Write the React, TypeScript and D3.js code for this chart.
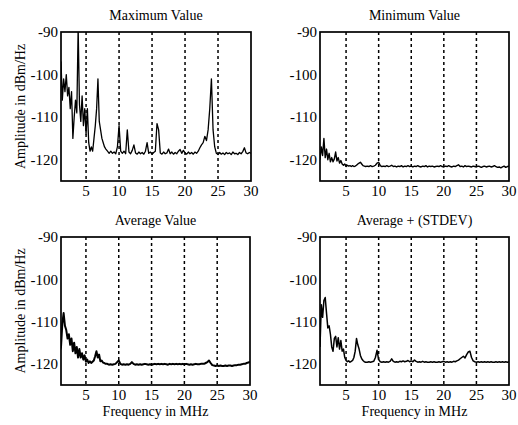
import React from "react";
import * as d3 from "d3";

// Frequency grid in MHz (shared by all four series)
const freqMHz: number[] = [
  1.0, 1.2, 1.4, 1.6, 1.8, 2.0, 2.2, 2.4, 2.6, 2.8, 3.0, 3.2, 3.4, 3.6, 3.8, 4.0, 4.2, 4.4,
  4.6, 4.8, 5.0, 5.2, 5.4, 5.6, 5.8, 6.0, 6.2, 6.4, 6.6, 6.8, 7.0, 7.2, 7.4, 7.6, 7.8, 8.0,
  8.25, 8.5, 8.75,
  9, 9.25, 9.5, 9.75, 10, 10.25, 10.5, 10.75, 11, 11.25, 11.5, 11.75,
  12, 12.25, 12.5, 12.75, 13, 13.25, 13.5, 13.75, 14, 14.25, 14.5, 14.75,
  15, 15.25, 15.5, 15.75, 16, 16.25, 16.5, 16.75, 17, 17.25, 17.5, 17.75,
  18, 18.25, 18.5, 18.75, 19, 19.25, 19.5, 19.75, 20, 20.25, 20.5, 20.75,
  21, 21.25, 21.5, 21.75, 22, 22.25, 22.5, 22.75, 23, 23.25, 23.5, 23.75,
  24, 24.25, 24.5, 24.75, 25, 25.25, 25.5, 25.75, 26, 26.25, 26.5, 26.75,
  27, 27.25, 27.5, 27.75, 28, 28.25, 28.5, 28.75, 29, 29.25, 29.5, 29.75,
  30,
];

const maxValue: number[] = [
  -97, -97, -106, -101, -104, -100, -105, -103, -108, -104, -115, -110, -106, -109, -89, -107, -111, -105,
  -112, -108, -114, -108, -116, -118, -117, -118, -115, -112, -108, -101, -111, -113, -115, -116, -117, -117.5,
  -118, -118.5, -118,
  -118.5, -118.2, -118.6, -117, // 9
  -112, -118, -118.5, -118, // 10
  -118.6, -113, -118.2, -118.6, // 11
  -117.8, -116.5, -118.4, -118.7, // 12
  -118.2, -118.6, -118.3, -118.7, // 13
  -118, -116, -118.5, -118.2, // 14
  -118.7, -118.3, -118, -111.5, // 15
  -113, -118.4, -118.7, -118.2, // 16
  -118.6, -118.4, -117.5, -118.6, // 17
  -118.2, -118.7, -118.3, -118.6, // 18
  -118, -117.6, -118.5, -117.8, // 19
  -118.4, -118.7, -118.2, -118.6, // 20
  -118.3, -118.7, -118.2, -118.5, // 21
  -118, -117.2, -116.5, -116, // 22
  -114.5, -115.5, -113, -108, // 23
  -101, -113, -117, -118.5, // 24
  -118.8, -118.3, -118.7, -118.4, // 25
  -118.8, -118.3, -118.6, -118.4, // 26
  -118.8, -118.2, -118.6, -118.5, // 27
  -118.8, -118.3, -118.6, -118.1, // 28
  -117.2, -118.4, -118.6, -118.3, // 29
  -118.5,
];

const minValue: number[] = [
  -120, -117, -119, -115, -119.5, -117.5, -120, -118.5, -120.5, -119.5, -120.5, -119.8, -118.2, -120.3, -119.5, -120.8, -120.2, -121,
  -121.3, -121, -121.6, -121.3, -121.5, -121.4, -121.6, -121.4, -121.6, -121.5, -121.3, -121, -120.8, -120.6, -121, -121.4, -121.5, -121.6,
  -121.5, -121.6, -121.4,
  -121.6, -121.5, -121.3, -120.8, // 9
  -120.6, -121.4, -121.6, -121.5, // 10
  -121.6, -121.4, -121.6, -121.5, // 11
  -121.3, -121.6, -121.5, -121.7, // 12
  -121.5, -121.6, -121.4, -121.7, // 13
  -121.5, -121.6, -121.4, -121.6, // 14
  -121.5, -121.7, -121.5, -121.6, // 15
  -121.4, -121.6, -121.7, -121.5, // 16
  -121.6, -121.4, -121.7, -121.5, // 17
  -121.6, -121.5, -121.7, -121.6, // 18
  -121.5, -121.6, -121.4, -121.6, // 19
  -121.7, -121.5, -121.6, -121.4, // 20
  -121.6, -121.7, -121.5, -121.6, // 21
  -121.4, -121.2, -121.6, -121.5, // 22
  -121.7, -121.4, -121.6, -121.5, // 23
  -121.6, -121.7, -121.5, -121.6, // 24
  -121.7, -121.5, -121.6, -121.8, // 25
  -121.6, -121.5, -121.7, -121.6, // 26
  -121.5, -121.7, -121.6, -121.4, // 27
  -121.6, -121.8, -121.7, -121.9, // 28
  -121.7, -121.5, -121.8, -121.6, // 29
  -121.5,
];

const avgValue: number[] = [
  -117, -116, -110.5, -108, -111, -112, -114, -113, -115.5, -114, -117, -115, -117.5, -116, -118.5, -116.5, -118.5, -117.5,
  -119, -118, -119.5, -119, -119.8, -119.4, -119.8, -119.5, -119.2, -118.2, -117, -118.5, -117.8, -119.4, -119.2, -119.7, -119.8, -120,
  -120, -120.2, -120.1,
  -120.2, -120.1, -120, -119.6, // 9
  -119.2, -120, -120.2, -120.1, // 10
  -120.2, -120.1, -120.2, -120, // 11
  -119.6, -120, -120.2, -120.1, // 12
  -120.2, -120.1, -120.2, -120.1, // 13
  -120, -120.1, -120.2, -120.1, // 14
  -120.2, -120.1, -120, -120.1, // 15
  -120, -120.1, -120, -120.1, // 16
  -120, -120.1, -120.2, -120, // 17
  -120.1, -120, -120.1, -120, // 18
  -120.1, -120, -120.1, -120, // 19
  -120.1, -120, -120.1, -120.2, // 20
  -120.1, -120.2, -120.1, -120, // 21
  -120.1, -120.1, -120, -120, // 22
  -120, -119.8, -119.6, -119.2, // 23
  -119.8, -120.3, -120.4, -120.5, // 24
  -120.4, -120.5, -120.4, -120.5, // 25
  -120.5, -120.4, -120.5, -120.4, // 26
  -120.4, -120.5, -120.4, -120.3, // 27
  -120.3, -120.2, -120.2, -120.1, // 28
  -120, -120, -119.8, -119.7, // 29
  -119.5,
];

const avgStdValue: number[] = [
  -116, -106, -109, -105, -104.3, -108, -111.5, -111, -113, -116, -117, -114, -113.5, -116, -113.8, -116.5, -114.5, -117,
  -116.5, -118.5, -119.2, -119.5, -119.3, -119.6, -119.4, -119.2, -118.5, -117, -114, -115.5, -116.5, -118, -118.8, -119.2, -119.5, -119.6,
  -119.6, -119.5, -119.6,
  -119.5, -119.4, -118.5, -116.8, // 9
  -119, -119.5, -119.6, -119.5, // 10
  -119.6, -119.5, -119.6, -119.4, // 11
  -118.8, -119.4, -119.6, -119.5, // 12
  -119.6, -119.4, -119.5, -119.3, // 13
  -119.5, -119.4, -119.2, -119.5, // 14
  -119.3, -119.5, -119.1, -119.4, // 15
  -119.6, -119.5, -119.6, -119.4, // 16
  -119.6, -119.5, -119.6, -119.6, // 17
  -119.5, -119.6, -119.5, -119.6, // 18
  -119.6, -119.5, -119.6, -119.5, // 19
  -119.4, -119.6, -119.5, -119.6, // 20
  -119.5, -119.6, -119.4, -119.5, // 21
  -119.3, -119.1, -118.8, -118.5, // 22
  -118.2, -118.6, -117.8, -117.2, // 23
  -117, -118.5, -119.3, -119.5, // 24
  -119.6, -119.5, -119.6, -119.5, // 25
  -119.6, -119.5, -119.6, -119.5, // 26
  -119.6, -119.5, -119.6, -119.6, // 27
  -119.5, -119.6, -119.5, -119.6, // 28
  -119.5, -119.6, -119.5, -119.6, // 29
  -119.5,
];

const xTicks: number[] = [5, 10, 15, 20, 25, 30];
const yTicks: number[] = [-90, -100, -110, -120];
const yDomain: [number, number] = [-125, -90];

const FONT = "'Liberation Serif', 'DejaVu Serif', serif";

type PanelProps = {
  id: string;
  title: string;
  values: number[];
  x0: number;
  x1: number;
  y0: number;
  y1: number;
  xMin: number;
  showYLabel: boolean;
  showXLabel: boolean;
  strokeWidth: number;
};

function Panel(p: PanelProps) {
  const x = d3.scaleLinear().domain([p.xMin, 30]).range([p.x0, p.x1]);
  const y = d3.scaleLinear().domain(yDomain).range([p.y1, p.y0]);
  const pts: [number, number][] = freqMHz.map((f, i) => [f, p.values[i]]);
  const line = d3
    .line<[number, number]>()
    .x((d) => x(d[0]))
    .y((d) => y(d[1]));
  const w = p.x1 - p.x0;
  const h = p.y1 - p.y0;
  const cx = (p.x0 + p.x1) / 2;
  return (
    <g>
      <defs>
        <clipPath id={p.id}>
          <rect x={p.x0} y={p.y0} width={w} height={h} />
        </clipPath>
      </defs>
      <text x={cx} y={p.y0 - 12} textAnchor="middle" fontSize={14} fontFamily={FONT}>
        {p.title}
      </text>
      {xTicks.filter((t) => t < 30).map((t) => (
        <line key={"gx" + t} x1={x(t)} x2={x(t)} y1={p.y0} y2={p.y1} stroke="#000" strokeWidth={1.5} strokeDasharray="3,3" />
      ))}
      {yTicks.filter((t) => t > -90).map((t) => (
        <line key={"gy" + t} x1={p.x0} x2={p.x1} y1={y(t)} y2={y(t)} stroke="#000" strokeWidth={1.5} strokeDasharray="3,3" />
      ))}
      <path d={line(pts) || ""} fill="none" stroke="#000" strokeWidth={p.strokeWidth} strokeLinejoin="round" clipPath={`url(#${p.id})`} />
      <rect x={p.x0} y={p.y0} width={w} height={h} fill="none" stroke="#000" strokeWidth={1.7} />
      {xTicks.map((t) => (
        <text key={"tx" + t} x={x(t)} y={p.y1 + 15} textAnchor="middle" fontSize={15} fontFamily={FONT}>
          {t}
        </text>
      ))}
      {yTicks.map((t) => (
        <text key={"ty" + t} x={p.x0 - 3} y={y(t)} dy="0.35em" textAnchor="end" fontSize={15} fontFamily={FONT}>
          {t}
        </text>
      ))}
      {p.showYLabel && (
        <text
          transform={`translate(25,${(p.y0 + p.y1) / 2}) rotate(-90)`}
          textAnchor="middle"
          fontSize={14}
          fontFamily={FONT}
        >
          Amplitude in dBm/Hz
        </text>
      )}
      {p.showXLabel && (
        <text x={cx} y={p.y1 + 31} textAnchor="middle" fontSize={14} fontFamily={FONT}>
          Frequency in MHz
        </text>
      )}
    </g>
  );
}

export default function App() {
  return (
    <svg
      width={518}
      height={425}
      viewBox="0 0 518 425"
      style={{ position: "absolute", left: 0, top: 0, background: "#fff" }}
    >
      <rect x={0} y={0} width={518} height={425} fill="#fff" />
      <Panel id="c1" title="Maximum Value" values={maxValue} x0={61} x1={251} y0={32} y1={181} xMin={1.2} showYLabel={true} showXLabel={false} strokeWidth={1.3} />
      <Panel id="c2" title="Minimum Value" values={minValue} x0={320} x1={509} y0={32} y1={181} xMin={1.0} showYLabel={false} showXLabel={false} strokeWidth={1.4} />
      <Panel id="c3" title="Average Value" values={avgValue} x0={61} x1={250} y0={237} y1={385} xMin={1.2} showYLabel={true} showXLabel={true} strokeWidth={2} />
      <Panel id="c4" title="Average + (STDEV)" values={avgStdValue} x0={320} x1={509} y0={237} y1={385} xMin={1.0} showYLabel={false} showXLabel={true} strokeWidth={1.5} />
    </svg>
  );
}
